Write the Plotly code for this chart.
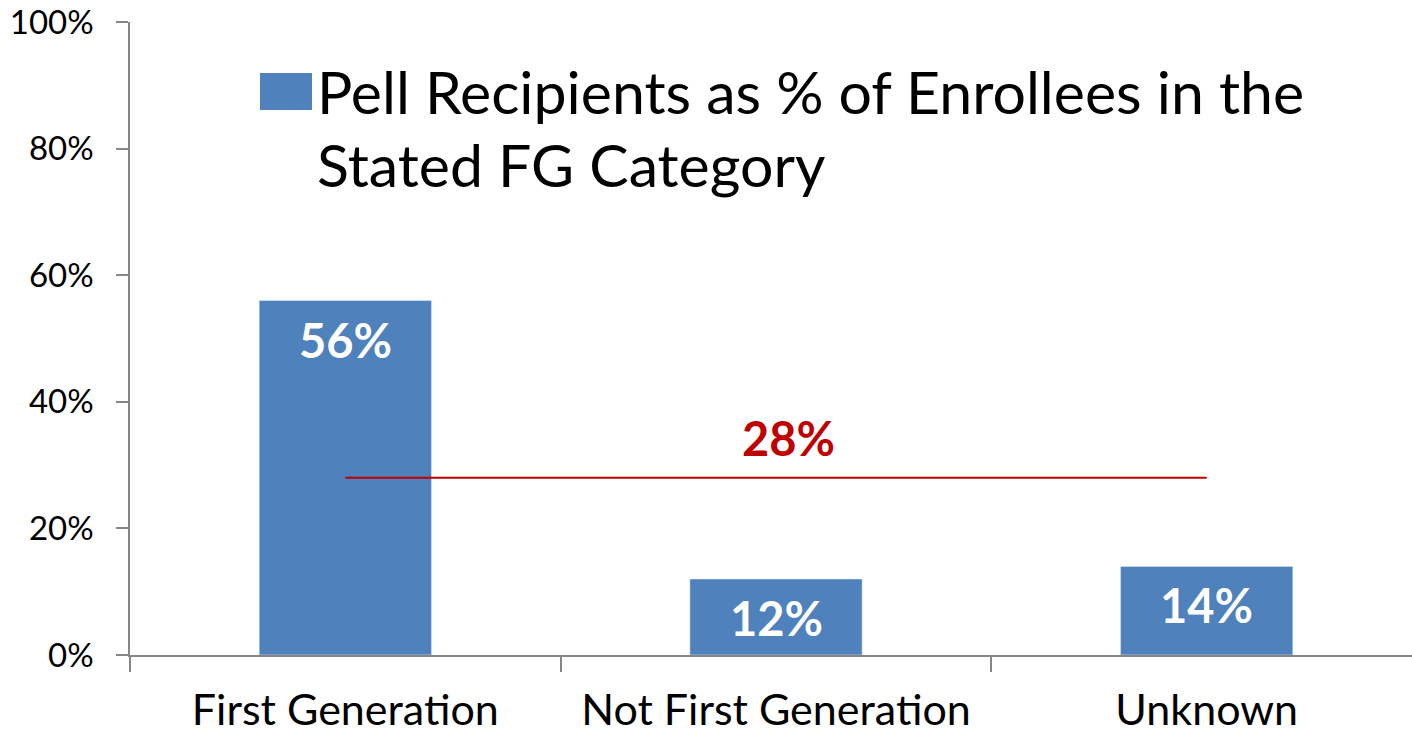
import plotly.graph_objects as go

categories = ["First Generation", "Not First Generation", "Unknown"]
pell_pct = [56, 12, 14]
overall_avg = 28
legend_lines = ["Pell Recipients as % of Enrollees in the", "Stated FG Category"]
y_ticks = [0, 20, 40, 60, 80, 100]
y_tick_labels = ["0%", "20%", "40%", "60%", "80%", "100%"]

W, H = 1412, 735
ML, MR, MT, MB = 130, 0, 22, 80
PW, PH = W - ML - MR, H - MT - MB
cat_px = 430.67

BLUE = "#4F81BD"
RED = "#C00000"
GRAY = "#868686"
FONT = "Lato"

def px_x(x):
    return (x - ML) / PW

def px_y(y):
    return (H - MB - y) / PH

fig = go.Figure()
fig.add_trace(go.Bar(
    x=categories, y=pell_pct, marker_color=BLUE, width=0.4,
    name="Pell", showlegend=False, hoverinfo="x+y",
))
fig.add_trace(go.Scatter(
    x=[categories[0], categories[-1]], y=[overall_avg, overall_avg],
    mode="lines", line=dict(color=RED, width=2), showlegend=False,
))

annotations = []
for c, v in zip(categories, pell_pct):
    annotations.append(dict(
        x=c, y=v, xref="x", yref="y", text=f"<b>{v}%</b>", showarrow=False,
        yanchor="middle", yshift=-39, font=dict(family=FONT, size=47, color="white"),
    ))
annotations.append(dict(
    x=categories[1], y=overall_avg, xref="x", yref="y", text=f"<b>{overall_avg}%</b>",
    showarrow=False, yanchor="middle", yshift=40, xshift=12,
    font=dict(family=FONT, size=47, color=RED),
))
for i, line in enumerate(legend_lines):
    annotations.append(dict(
        x=px_x(315), y=px_y(91 + 73 * i), xref="paper", yref="paper", text=line,
        showarrow=False, xanchor="left", yanchor="middle", align="left",
        font=dict(family=FONT, size=59, color="black"),
    ))

fig.update_layout(
    width=W, height=H,
    margin=dict(l=ML, r=MR, t=MT, b=MB, pad=0, autoexpand=False),
    plot_bgcolor="white", paper_bgcolor="white",
    font=dict(family=FONT, color="black"),
    annotations=annotations,
    shapes=[dict(
        type="rect", xref="paper", yref="paper",
        x0=px_x(260), x1=px_x(312), y0=px_y(110), y1=px_y(73),
        fillcolor=BLUE, line=dict(width=0),
    )],
    xaxis=dict(
        range=[-0.5, -0.5 + PW / cat_px], tickson="boundaries",
        showline=True, linecolor=GRAY, linewidth=1.5,
        ticks="outside", ticklen=15, tickcolor=GRAY, tickwidth=1.5,
        tickfont=dict(family=FONT, size=43, color="black"),
        ticklabelstandoff=17, showgrid=False, zeroline=False,
        automargin=False, ticklabeloverflow="allow",
    ),
    yaxis=dict(
        range=[0, 100], tickvals=y_ticks, ticktext=y_tick_labels,
        showline=True, linecolor=GRAY, linewidth=1.5,
        ticks="outside", ticklen=12, tickcolor=GRAY, tickwidth=1.5,
        tickfont=dict(family=FONT, size=33, color="black"),
        ticklabelstandoff=16, showgrid=False, zeroline=False,
        automargin=False, ticklabeloverflow="allow",
    ),
    bargap=0.6,
)

fig.write_html(
    "out.html",
    config={"displayModeBar": False},
    post_script="document.body.style.margin='0';document.body.style.overflow='hidden';",
)
